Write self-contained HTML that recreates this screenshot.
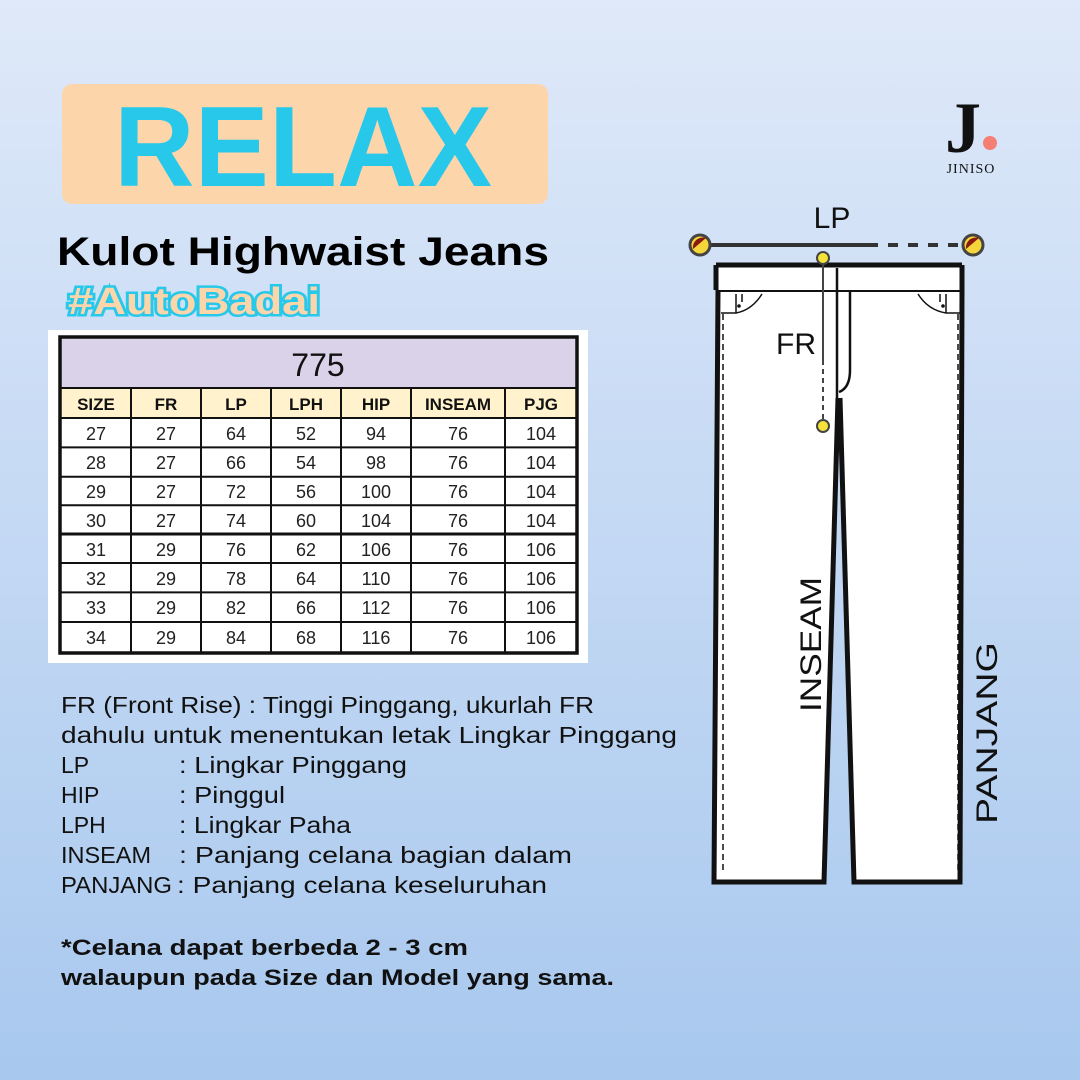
<!DOCTYPE html>
<html><head><meta charset="utf-8"><style>
html,body{margin:0;padding:0;width:1080px;height:1080px;overflow:hidden}
svg{display:block}
</style></head><body>
<svg width="1080" height="1080" viewBox="0 0 1080 1080" xmlns="http://www.w3.org/2000/svg" font-family="Liberation Sans, sans-serif">
<defs>
<linearGradient id="bg" x1="0" y1="0" x2="0" y2="1">
<stop offset="0" stop-color="#dfe9f9"/><stop offset="1" stop-color="#a8c8ee"/>
</linearGradient>
</defs>
<rect width="1080" height="1080" fill="url(#bg)"/>
<!-- title -->
<rect x="62" y="84" width="486" height="120" rx="10" fill="#fdd5ab"/>
<text x="114" y="186" font-size="114" font-weight="bold" fill="#27c8ea" textLength="378" lengthAdjust="spacingAndGlyphs">RELAX</text>
<text x="57" y="265" font-size="40" font-weight="bold" fill="#000" textLength="492" lengthAdjust="spacingAndGlyphs">Kulot Highwaist Jeans</text>
<text x="68" y="314" font-size="38" font-weight="bold" fill="#fdd5ab" stroke="#27c8ea" stroke-width="5" paint-order="stroke" textLength="252" lengthAdjust="spacingAndGlyphs">#AutoBadai</text>
<!-- logo -->
<text x="945" y="152" font-family="Liberation Serif, serif" font-size="72" font-weight="bold" fill="#111">J</text>
<circle cx="990" cy="143" r="7" fill="#f47f72"/>
<text x="971" y="173" font-family="Liberation Serif, serif" font-size="14" text-anchor="middle" fill="#111" letter-spacing="1">JINISO</text>
<!-- table -->
<rect x="48" y="330" width="540" height="333" fill="#fff"/>
<rect x="60" y="337" width="517" height="50" fill="#d9d2e9"/>
<text x="318" y="376" font-size="32" text-anchor="middle" fill="#111">775</text>
<rect x="60" y="388" width="517" height="30" fill="#fff2cc"/>
<g stroke="#111" stroke-width="2" fill="none">
<line x1="60" y1="388" x2="577" y2="388"/>
<line x1="60" y1="418" x2="577" y2="418"/>
<line x1="60" y1="447.4" x2="577" y2="447.4"/>
<line x1="60" y1="476.8" x2="577" y2="476.8"/>
<line x1="60" y1="505.2" x2="577" y2="505.2"/>
<line x1="60" y1="563" x2="577" y2="563"/>
<line x1="60" y1="592.4" x2="577" y2="592.4"/>
<line x1="60" y1="622" x2="577" y2="622"/>
<line x1="131" y1="388" x2="131" y2="653"/>
<line x1="201" y1="388" x2="201" y2="653"/>
<line x1="271" y1="388" x2="271" y2="653"/>
<line x1="341" y1="388" x2="341" y2="653"/>
<line x1="411" y1="388" x2="411" y2="653"/>
<line x1="505" y1="388" x2="505" y2="653"/>
</g>
<line x1="60" y1="534" x2="577" y2="534" stroke="#111" stroke-width="3"/>
<rect x="60" y="337" width="517" height="316" fill="none" stroke="#111" stroke-width="3.5"/>
<g font-size="17" font-weight="bold" text-anchor="middle" fill="#111">
<text x="96" y="410">SIZE</text><text x="166" y="410">FR</text><text x="236" y="410">LP</text><text x="306" y="410">LPH</text><text x="376" y="410">HIP</text><text x="458" y="410">INSEAM</text><text x="541" y="410">PJG</text>
</g>
<g font-size="18" text-anchor="middle" fill="#222">
<text x="96" y="440">27</text><text x="166" y="440">27</text><text x="236" y="440">64</text><text x="306" y="440">52</text><text x="376" y="440">94</text><text x="458" y="440">76</text><text x="541" y="440">104</text>
<text x="96" y="469">28</text><text x="166" y="469">27</text><text x="236" y="469">66</text><text x="306" y="469">54</text><text x="376" y="469">98</text><text x="458" y="469">76</text><text x="541" y="469">104</text>
<text x="96" y="498">29</text><text x="166" y="498">27</text><text x="236" y="498">72</text><text x="306" y="498">56</text><text x="376" y="498">100</text><text x="458" y="498">76</text><text x="541" y="498">104</text>
<text x="96" y="527">30</text><text x="166" y="527">27</text><text x="236" y="527">74</text><text x="306" y="527">60</text><text x="376" y="527">104</text><text x="458" y="527">76</text><text x="541" y="527">104</text>
<text x="96" y="556">31</text><text x="166" y="556">29</text><text x="236" y="556">76</text><text x="306" y="556">62</text><text x="376" y="556">106</text><text x="458" y="556">76</text><text x="541" y="556">106</text>
<text x="96" y="585">32</text><text x="166" y="585">29</text><text x="236" y="585">78</text><text x="306" y="585">64</text><text x="376" y="585">110</text><text x="458" y="585">76</text><text x="541" y="585">106</text>
<text x="96" y="614">33</text><text x="166" y="614">29</text><text x="236" y="614">82</text><text x="306" y="614">66</text><text x="376" y="614">112</text><text x="458" y="614">76</text><text x="541" y="614">106</text>
<text x="96" y="644">34</text><text x="166" y="644">29</text><text x="236" y="644">84</text><text x="306" y="644">68</text><text x="376" y="644">116</text><text x="458" y="644">76</text><text x="541" y="644">106</text>
</g>
<!-- legend -->
<g font-size="23" fill="#111">
<text x="61" y="713" textLength="533" lengthAdjust="spacingAndGlyphs">FR (Front Rise) : Tinggi Pinggang, ukurlah FR</text>
<text x="61" y="743" textLength="616" lengthAdjust="spacingAndGlyphs">dahulu untuk menentukan letak Lingkar Pinggang</text>
<text x="61" y="773">LP</text><text x="179" y="773" textLength="228" lengthAdjust="spacingAndGlyphs">: Lingkar Pinggang</text>
<text x="61" y="803">HIP</text><text x="179" y="803" textLength="106" lengthAdjust="spacingAndGlyphs">: Pinggul</text>
<text x="61" y="833">LPH</text><text x="179" y="833" textLength="172" lengthAdjust="spacingAndGlyphs">: Lingkar Paha</text>
<text x="61" y="863" textLength="90" lengthAdjust="spacingAndGlyphs">INSEAM</text><text x="179" y="863" textLength="393" lengthAdjust="spacingAndGlyphs">: Panjang celana bagian dalam</text>
<text x="61" y="893" textLength="111" lengthAdjust="spacingAndGlyphs">PANJANG</text><text x="177" y="893" textLength="370" lengthAdjust="spacingAndGlyphs">: Panjang celana keseluruhan</text>
</g>
<g font-size="22" font-weight="bold" fill="#111">
<text x="61" y="955" textLength="407" lengthAdjust="spacingAndGlyphs">*Celana dapat berbeda 2 - 3 cm</text>
<text x="61" y="985" textLength="553" lengthAdjust="spacingAndGlyphs">walaupun pada Size dan Model yang sama.</text>
</g>
<!-- pants -->
<path d="M718 265 L962 265 L962 290 L960 880 L854 880 L840 400 L836 400 L824 880 L714 880 L718 290 Z" fill="#fff"/>
<g fill="none" stroke="#111">
<path d="M716 265 L962 265 M716 265 L716 290 M962 265 L962 290" stroke-width="5"/>
<path d="M718 290 L714 882 L824 882 L838 398" stroke-width="5"/>
<path d="M962 290 L960 882 L854 882 L840 398" stroke-width="5"/>
<line x1="718" y1="291" x2="962" y2="291" stroke-width="2"/>
<line x1="837" y1="268" x2="837" y2="400" stroke-width="2.5"/>
<path d="M850 292 L850 370 Q850 388 839 392" stroke-width="2.5"/>
<path d="M721 313 L736 313 Q752 310 762 294" stroke-width="1.5"/>
<path d="M736 294 L736 313 M742 294 L742 302 M962 313 L946 313 Q928 310 918 294 M946 294 L946 313 M940 294 L940 302" stroke-width="1.5"/>
<path d="M723 314 L723 870 M958 314 L958 870" stroke-width="1.5" stroke-dasharray="6 4"/>
</g>
<circle cx="739" cy="306" r="1.8" fill="#111"/><circle cx="943" cy="306" r="1.8" fill="#111"/>
<!-- measurement lines -->
<line x1="700" y1="245" x2="868" y2="245" stroke="#333" stroke-width="4"/>
<line x1="868" y1="245" x2="970" y2="245" stroke="#333" stroke-width="4" stroke-dasharray="10 10"/>
<line x1="823" y1="260" x2="823" y2="360" stroke="#444" stroke-width="2"/>
<line x1="823" y1="360" x2="823" y2="425" stroke="#444" stroke-width="2" stroke-dasharray="5 4"/>
<g stroke="#444" stroke-width="3">
<circle cx="700" cy="245" r="10" fill="#f5d63a"/>
<circle cx="973" cy="245" r="10" fill="#f5d63a"/>
</g>
<path d="M693 249 A10 10 0 0 1 706 238 Z" fill="#8a1a10"/>
<path d="M966 249 A10 10 0 0 1 979 238 Z" fill="#8a1a10"/>
<circle cx="823" cy="258" r="6" fill="#f5e33a" stroke="#444" stroke-width="2"/>
<circle cx="823" cy="426" r="6" fill="#f5e33a" stroke="#444" stroke-width="2"/>
<g font-size="30" fill="#111">
<text x="832" y="228" text-anchor="middle">LP</text>
<text x="776" y="354">FR</text>
<text transform="translate(821,712) rotate(-90)" textLength="135" lengthAdjust="spacingAndGlyphs">INSEAM</text>
<text transform="translate(997,824) rotate(-90)" textLength="182" lengthAdjust="spacingAndGlyphs">PANJANG</text>
</g>
</svg>
</body></html>
